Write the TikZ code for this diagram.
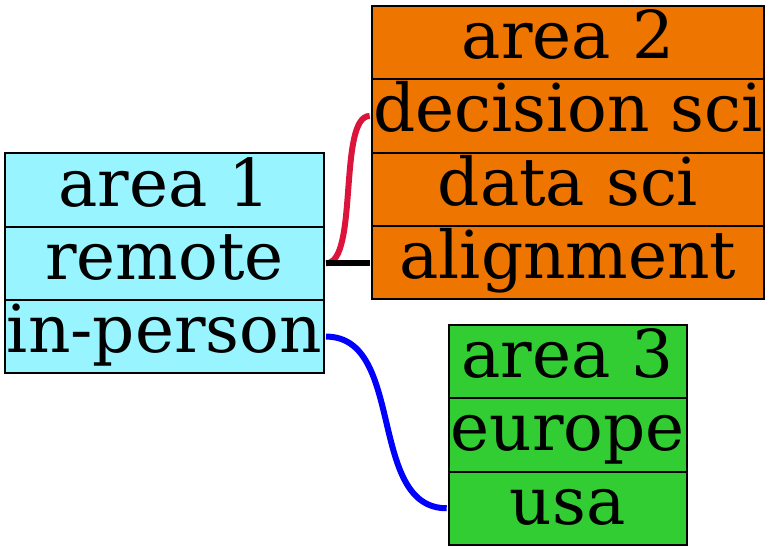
\documentclass[tikz,border=0pt]{standalone}
\usepackage{fontspec}
\setmainfont{DejaVu Serif}
\definecolor{cadet}{HTML}{98F5FF}
\definecolor{dorange}{HTML}{EE7600}
\definecolor{lgreen}{HTML}{32CD32}
\definecolor{crims}{HTML}{DC143C}
\tikzset{
  cell/.style={draw=black, line width=2pt, rectangle, inner sep=0pt,
    minimum height=73.3pt, text height=48pt, text depth=16pt,
    font=\fontsize{66}{70}\selectfont},
  cellA/.style={cell, fill=cadet, minimum width=319.3pt},
  cellB/.style={cell, fill=dorange, minimum width=392.6pt},
  cellC/.style={cell, fill=lgreen, minimum width=238pt},
  edge/.style={line width=6pt}
}
\begin{document}
\begin{tikzpicture}[x=1pt, y=-1pt]
\useasboundingbox (0,0) rectangle (769,551);
% area 1
\node[cellA] (a1h) at (164.35,190) {area 1};
\node[cellA] (a1r) at (164.35,263.3) {remote};
\node[cellA] (a1p) at (164.35,336.6) {in-person};
% area 2
\node[cellB] (a2h) at (568,42.65) {area 2};
\node[cellB] (a2d) at (568,115.95) {decision sci};
\node[cellB] (a2s) at (568,189.25) {data sci};
\node[cellB] (a2a) at (568,262.55) {alignment};
% area 3
\node[cellC] (a3h) at (567.7,361.65) {area 3};
\node[cellC] (a3e) at (567.7,434.95) {europe};
\node[cellC] (a3u) at (567.7,508.25) {usa};
% edges
\draw[edge, crims] ([xshift=1pt]a1r.east) .. controls ([xshift=34pt]a1r.east) and ([xshift=-33pt]a2d.west) .. ([xshift=-1pt]a2d.west);
\draw[edge, black] ([xshift=1pt]a1r.east) -- ([xshift=-1pt]a1r.east -| a2a.west);
\draw[edge, blue] ([xshift=1pt]a1p.east) .. controls ([xshift=81pt]a1p.east) and ([xshift=-81pt]a3u.west) .. ([xshift=-1pt]a3u.west);
\end{tikzpicture}
\end{document}
